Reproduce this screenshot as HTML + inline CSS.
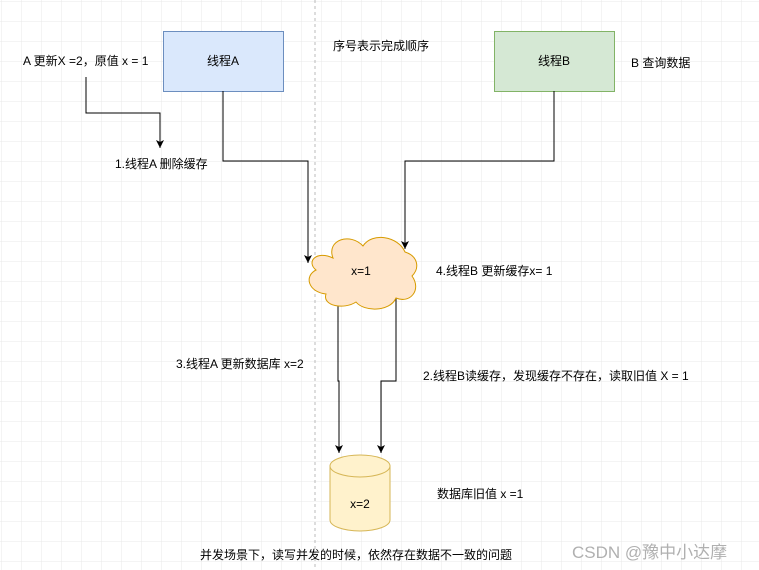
<!DOCTYPE html>
<html><head><meta charset="utf-8"><style>
html,body{margin:0;padding:0;background:#fff;}
svg{display:block;}
text{font-family:"Liberation Sans","Noto Sans CJK SC",sans-serif;font-size:12px;fill:#000;}
</style></head><body>
<svg width="759" height="570" viewBox="0 0 759 570" xmlns="http://www.w3.org/2000/svg">
<defs>
<pattern id="g" x="2" y="2" width="20" height="20" patternUnits="userSpaceOnUse">
<path d="M20 0V20M0 20H20" stroke="#e8e8e8" stroke-width="1" fill="none"/>
</pattern>
<marker id="a" markerWidth="10" markerHeight="10" refX="9" refY="5" orient="auto" markerUnits="userSpaceOnUse" viewBox="0 0 10 10">
<path d="M1 1L9 5L1 9L3 5Z" fill="#000"/>
</marker>
</defs>
<rect width="759" height="570" fill="#fff"/>
<rect width="759" height="570" fill="url(#g)"/>
<line x1="315" y1="0" x2="315" y2="570" stroke="#bbb" stroke-dasharray="3,3"/>

<rect x="163.5" y="31.5" width="120" height="60" fill="#dae8fc" stroke="#6c8ebf"/>
<text x="223" y="65" text-anchor="middle">线程A</text>
<rect x="494.5" y="31.5" width="120" height="60" fill="#d5e8d4" stroke="#82b366"/>
<text x="554" y="65" text-anchor="middle">线程B</text>

<text x="23" y="65">A 更新X =2，原值 x = 1</text>
<text x="333" y="50">序号表示完成顺序</text>
<text x="631" y="67">B 查询数据</text>
<text x="115" y="168">1.线程A 删除缓存</text>

<path d="M86 77V113H160V148" stroke="#000" fill="none" marker-end="url(#a)"/>
<path d="M223 91V161H308V263" stroke="#000" fill="none" marker-end="url(#a)"/>
<path d="M554 91V161H405V249" stroke="#000" fill="none" marker-end="url(#a)"/>

<path d="M338 297V381H339V453" stroke="#000" fill="none" marker-end="url(#a)"/>
<path d="M396 297V381H381V453" stroke="#000" fill="none" marker-end="url(#a)"/>

<path d="M333 258C326 240 350 232 363 246C372 232 398 236 405 252C418 256 420 268 412 276C422 290 410 304 396 298C390 312 364 312 356 302C344 310 322 306 326 294C308 292 304 276 316 270C306 262 316 250 333 258Z" fill="#ffe6cc" stroke="#d79b00"/>
<text x="361" y="275" text-anchor="middle">x=1</text>
<text x="436" y="275">4.线程B 更新缓存x= 1</text>

<text x="176" y="368">3.线程A 更新数据库 x=2</text>
<text x="423" y="380">2.线程B读缓存，发现缓存不存在，读取旧值 X = 1</text>

<path d="M330 466V520A30 11 0 0 0 390 520V466A30 11 0 0 0 330 466Z" fill="#fff2cc" stroke="#d6b656"/>
<path d="M330 466A30 11 0 0 0 390 466" fill="none" stroke="#d6b656"/>
<text x="360" y="508" text-anchor="middle">x=2</text>
<text x="437" y="498">数据库旧值 x =1</text>

<text x="200" y="559">并发场景下，读写并发的时候，依然存在数据不一致的问题</text>
<text x="572" y="558" style="font-size:17px;fill:#b0b0b0;">CSDN @豫中小达摩</text>
</svg>
</body></html>
